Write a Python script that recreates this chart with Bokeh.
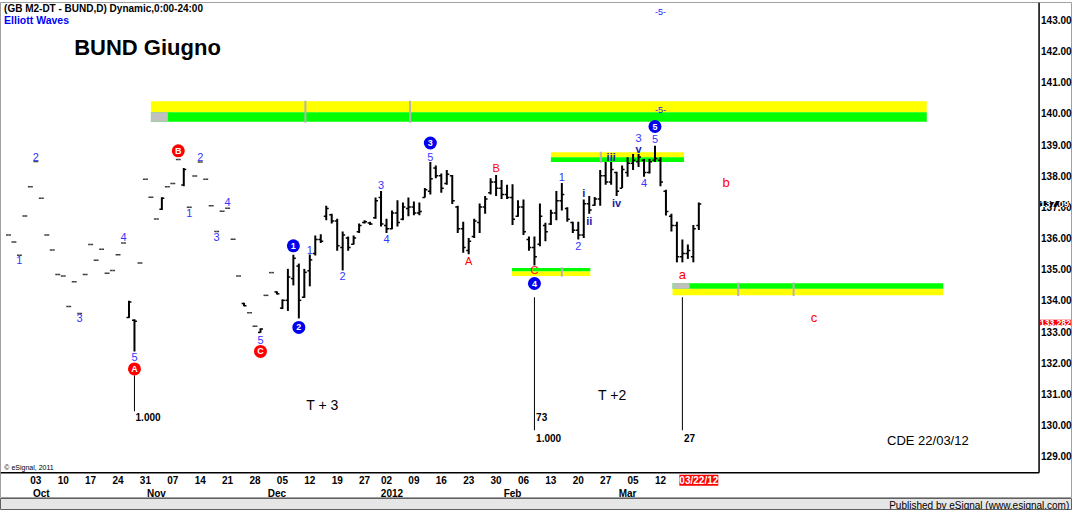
from bokeh.plotting import figure
from bokeh.models import Range1d, LinearAxis, FixedTicker, Label, NumeralTickFormatter, ColumnDataSource
from bokeh.layouts import column
from bokeh.embed import file_html
from bokeh.resources import INLINE
from bokeh.core.properties import value

# ---------------- data (trading-day index, Oct 3 2011 = 0) ----------------
bar_idx = list(range(-5, 122))
highs = [136.10, 135.87, 135.45, 136.71, 137.65, 138.46, 137.28, 136.10, 135.62, 134.83,
         134.78, 133.80, 134.60, 133.58, 134.83, 135.79, 135.29, 135.64, 134.87, 134.96,
         135.46, 135.84, 133.99, 133.39, 135.20, 137.89, 137.31, 136.61, 137.31, 137.65,
         137.75, 138.52, 138.25, 136.99, 137.99, 138.44, 137.89, 137.04, 136.21, 136.86,
         136.96, 135.96, 134.78, 133.92, 133.60, 133.17, 133.10, 134.16, 134.89, 134.29,
         134.03, 135.01, 135.46, 135.18, 135.01, 135.47, 136.08, 136.12, 137.04, 136.78,
         136.62, 136.21, 136.05, 136.08, 136.47, 136.57, 136.52, 137.30, 137.51, 136.62,
         136.88, 137.21, 137.14, 137.30, 137.17, 137.14, 137.61, 138.44, 138.33, 138.07,
         138.18, 138.02, 137.04, 136.52, 136.00, 136.62, 137.11, 137.35, 137.92, 138.02,
         137.86, 137.71, 137.73, 137.21, 137.24, 136.05, 136.05, 137.11, 136.49, 136.91,
         137.51, 137.77, 136.99, 136.52, 136.52, 137.24, 137.35, 137.32, 138.18, 138.44,
         138.44, 138.13, 138.33, 138.59, 138.70, 138.70, 138.54, 138.54, 138.96, 138.59,
         137.55, 136.78, 136.52, 135.95, 135.79, 136.42, 137.14]
lows = [136.10, 135.87, 135.45, 136.71, 137.65, 138.46, 137.28, 136.10, 135.62, 134.83,
        134.78, 133.80, 134.60, 133.58, 134.83, 135.79, 135.29, 135.64, 134.87, 134.96,
        135.46, 135.84, 133.43, 132.36, 135.20, 137.89, 137.31, 136.61, 136.90, 137.65,
        137.75, 138.52, 137.66, 136.99, 137.99, 138.44, 137.89, 137.04, 136.21, 136.86,
        136.96, 135.96, 134.78, 133.81, 133.60, 133.17, 132.96, 134.16, 134.89, 134.19,
        133.72, 133.66, 134.48, 133.42, 134.08, 134.45, 135.44, 135.84, 136.57, 136.47,
        135.59, 134.96, 135.59, 135.79, 136.16, 136.47, 136.42, 136.62, 136.37, 136.16,
        136.28, 136.37, 136.57, 136.70, 136.73, 136.73, 137.30, 137.40, 137.92, 137.45,
        137.71, 137.09, 136.16, 135.53, 135.48, 136.00, 136.16, 136.78, 137.40, 137.35,
        137.25, 137.25, 136.42, 136.68, 136.10, 135.59, 135.12, 135.74, 135.90, 136.42,
        136.57, 136.88, 136.52, 136.16, 135.95, 136.00, 136.78, 137.04, 137.04, 137.71,
        137.71, 137.35, 137.61, 137.97, 138.18, 138.28, 137.97, 138.07, 138.44, 137.66,
        136.72, 136.21, 135.22, 135.22, 135.33, 135.22, 136.26]
opens = [136.10, 135.87, 135.45, 136.71, 137.65, 138.46, 137.28, 136.10, 135.62, 134.83,
         134.78, 133.80, 134.60, 133.58, 134.83, 135.79, 135.29, 135.64, 134.87, 134.96,
         135.46, 135.84, 133.45, 133.36, 135.20, 137.89, 137.31, 136.61, 136.92, 137.65,
         137.75, 138.52, 137.70, 136.99, 137.99, 138.44, 137.89, 137.04, 136.21, 136.86,
         136.96, 135.96, 134.78, 133.90, 133.60, 133.17, 132.97, 134.16, 134.89, 134.27,
         133.75, 134.00, 134.70, 135.10, 134.10, 134.95, 135.50, 135.95, 136.70, 136.75,
         136.55, 135.70, 136.00, 135.80, 136.20, 136.50, 136.48, 136.65, 137.30, 136.40,
         136.30, 136.80, 136.60, 136.95, 137.00, 136.80, 137.30, 137.50, 138.25, 138.00,
         137.75, 138.00, 137.00, 136.30, 135.60, 136.05, 136.50, 137.00, 137.45, 137.80,
         137.60, 137.40, 137.30, 136.70, 137.00, 135.95, 135.70, 135.80, 136.40, 136.45,
         136.80, 137.20, 136.95, 136.50, 136.25, 136.10, 137.10, 137.05, 137.25, 138.00,
         137.80, 138.10, 137.60, 138.10, 138.40, 138.45, 138.50, 138.10, 138.50, 138.50,
         137.50, 136.70, 136.40, 135.40, 135.50, 135.40, 136.40]
closes = [136.10, 135.87, 135.45, 136.71, 137.65, 138.46, 137.28, 136.10, 135.62, 134.83,
          134.78, 133.80, 134.60, 133.58, 134.83, 135.79, 135.29, 135.64, 134.87, 134.96,
          135.46, 135.84, 133.95, 133.33, 135.20, 137.89, 137.31, 136.61, 137.28, 137.65,
          137.75, 138.52, 138.20, 136.99, 137.99, 138.44, 137.89, 137.04, 136.21, 136.86,
          136.96, 135.96, 134.78, 133.83, 133.60, 133.17, 133.08, 134.16, 134.89, 134.21,
          134.00, 134.75, 135.35, 134.00, 134.90, 135.30, 135.95, 135.90, 136.95, 136.55,
          135.75, 136.10, 135.70, 136.00, 136.40, 136.52, 136.45, 137.20, 136.45, 136.30,
          136.80, 136.50, 137.00, 137.00, 136.80, 136.85, 137.55, 137.90, 138.00, 137.60,
          138.05, 137.20, 136.30, 135.70, 135.90, 136.55, 137.00, 137.25, 137.80, 137.60,
          137.40, 137.30, 136.60, 137.00, 136.20, 135.70, 135.40, 136.70, 136.20, 136.80,
          137.20, 137.40, 136.60, 136.25, 136.10, 137.10, 136.90, 137.25, 138.00, 137.80,
          138.20, 137.50, 138.20, 138.40, 138.50, 138.60, 138.10, 138.45, 138.55, 137.80,
          136.85, 136.40, 135.40, 135.50, 135.60, 136.30, 137.09]

last_price = 137.09
flag_price = 133.282
y_ticks = list(range(129, 144))

day_ticks = [0, 5, 10, 15, 20, 25, 30, 35, 40, 45, 50, 55, 60, 64, 69, 74, 79, 84, 89, 94, 99, 104, 109, 114]
day_labels = ["03", "10", "17", "24", "31", "07", "14", "21", "28", "05", "12", "19", "27",
              "02", "09", "16", "23", "30", "06", "13", "20", "27", "05", "12"]
month_ticks = [1, 22, 44, 65, 87, 108]
month_labels = ["Oct", "Nov", "Dec", "2012", "Feb", "Mar"]
current_idx = 121
current_label = "03/22/12"

# chart area limits (index / price)
x_first, x_last = -5.9, 183.1
p_low, p_high = 128.47, 143.56

# Elliott wave labels
circ_text = ["1", "2", "3", "4", "5", "A", "B", "C"]
circ_x = [47, 48, 72, 91, 113, 18, 26, 41]
circ_y = [135.75, 133.13, 139.05, 134.54, 139.58, 131.80, 138.80, 132.36]
circ_color = ["#0000ee"] * 5 + ["#ff0000"] * 3

digit_text = ["2", "1", "3", "4", "5", "1", "2", "3", "4", "5", "1", "2", "3", "4", "5",
              "1", "2", "3", "4", "5"]
digit_x = [0, -3, 8, 16, 18, 28, 30, 33, 35, 41, 50, 56, 63, 64, 72, 96, 99, 110, 111, 113]
digit_y = [138.61, 135.28, 133.42, 136.03, 132.17, 136.81, 138.61, 136.03, 137.15, 132.73,
           135.63, 134.79, 137.71, 135.97, 138.61, 137.96, 135.75, 139.20, 137.77, 139.17]

roman_text = ["i", "ii", "iii", "iv", "v"]
roman_x = [100, 101, 105, 106, 110]
roman_y = [137.46, 136.56, 138.59, 137.12, 138.86]

red_text = ["A", "B", "C", "a", "b", "c"]
red_x = [79, 84, 91, 118, 126, 142]
red_y = [135.26, 138.24, 134.97, 134.82, 137.77, 133.45]
red_size = ["11px", "11px", "11px", "13px", "13px", "13px"]

five_text = ["-5-", "-5-"]
five_x = [114, 114]
five_y = [143.25, 140.10]

# zones (price bands)
zone_left = [21, 94, 86.9, 116.2]
zone_right = [162.6, 118.3, 101.2, 165.6]
yellow_bottom = [140.04, 138.59, 134.78, 134.16]
yellow_top = [140.39, 138.75, 134.93, 134.37]
green_bottom = [139.73, 138.44, 134.93, 134.37]
green_top = [140.04, 138.59, 135.04, 134.55]
gray_left = [21, 116.2]
gray_right = [24.1, 119.3]
gray_bottom = [139.73, 134.37]
gray_top = [140.04, 134.55]
divider_x = [49.2, 68.3, 103.1, 96.0, 128.2, 138.3]
divider_bottom = [139.70, 139.70, 138.42, 134.76, 134.14, 134.14]
divider_top = [140.41, 140.41, 138.77, 135.06, 134.57, 134.57]

# measure lines
mline_x = [18, 91, 118]
mline_top = [131.59, 134.10, 134.10]
mline_bottom = [130.44, 129.83, 129.83]
mtext = ["1.000", "73", "1.000", "27"]
mtext_x = [18.2, 91.3, 91.3, 118.3]
mtext_y = [130.24, 130.24, 129.59, 129.59]

# ---------------- figure ----------------
FONT = "Liberation Sans"

# the frame also covers the label strips, so that the price / date flags are not clipped;
# the axes are pinned (fixed_location) at the edges of the chart area
p = figure(width=1072, height=498, x_range=Range1d(-6.45, 189.2), y_range=Range1d(127.64, p_high),
           output_backend="svg", toolbar_location=None, x_axis_location=None, y_axis_location=None,
           min_border_left=0, min_border_right=0, min_border_top=2, min_border_bottom=0,
           background_fill_color="white", border_fill_color="white",
           outline_line_color="#a0a0a0")
p.xgrid.visible = False
p.ygrid.visible = False

axis_style = dict(major_tick_out=0, major_tick_in=0, minor_tick_out=0, minor_tick_in=0,
                  axis_line_color=None, axis_label_standoff=0, major_label_text_font=FONT,
                  major_label_text_font_size="10px", major_label_text_font_style="bold",
                  major_label_text_color="black", major_label_standoff=2)

# right price axis
yax = LinearAxis(ticker=FixedTicker(ticks=y_ticks), formatter=NumeralTickFormatter(format="0.00"),
                 fixed_location=x_last, **axis_style)
p.add_layout(yax, "right")

# date axis: day numbers on the first row, month names on the second row
all_ticks = day_ticks + month_ticks
overrides = {t: l for t, l in zip(day_ticks, day_labels)}
overrides.update({t: "\n" + l for t, l in zip(month_ticks, month_labels)})
xax = LinearAxis(ticker=FixedTicker(ticks=all_ticks), major_label_overrides=overrides,
                 fixed_location=p_low, **axis_style)
p.add_layout(xax, "below")

# chart-area borders (price axis line and date axis line)
p.segment(x0=[x_last, -6.45], y0=[p_low, p_low], x1=[x_last, x_last], y1=[p_high, p_low],
          line_color="black", line_width=1.5)

# zones
p.quad(left=zone_left, right=zone_right, bottom=yellow_bottom, top=yellow_top,
       fill_color="#ffff00", line_color=None)
p.quad(left=zone_left, right=zone_right, bottom=green_bottom, top=green_top,
       fill_color="#00ff00", line_color=None)
p.quad(left=gray_left, right=gray_right, bottom=gray_bottom, top=gray_top,
       fill_color="#c0c0c0", line_color=None)
p.segment(x0=divider_x, y0=divider_bottom, x1=divider_x, y1=divider_top,
          line_color="#b4b4b4", line_width=2)

# bars
tick = 0.45
bar_color = ["#404040" if h == l else "black" for h, l in zip(highs, lows)]
bars = ColumnDataSource(dict(x=bar_idx, h=highs, l=lows, o=opens, c=closes, col=bar_color,
                             xl=[i - tick for i in bar_idx], xr=[i + tick for i in bar_idx]))
p.segment(x0="x", y0="l", x1="x", y1="h", source=bars, line_color="col", line_width=2)
p.segment(x0="xl", y0="o", x1="x", y1="o", source=bars, line_color="col", line_width=1.5)
p.segment(x0="x", y0="c", x1="xr", y1="c", source=bars, line_color="col", line_width=1.5)

# measure lines
p.segment(x0=mline_x, y0=mline_bottom, x1=mline_x, y1=mline_top, line_color="black", line_width=1)
p.text(x=mtext_x, y=mtext_y, text=mtext, text_font=value(FONT), text_font_size="10px",
       text_font_style="bold", text_color="black", text_align="left", text_baseline="middle")

# wave labels
p.scatter(x=circ_x, y=circ_y, size=13, fill_color=circ_color, line_color=None)
p.text(x=circ_x, y=circ_y, text=circ_text, text_font=value(FONT), text_font_size="9px",
       text_font_style="bold", text_color="white", text_align="center", text_baseline="middle")
p.text(x=digit_x, y=digit_y, text=digit_text, text_font=value(FONT), text_font_size="11px",
       text_color="#3535ff", text_align="center", text_baseline="middle")
p.text(x=roman_x, y=roman_y, text=roman_text, text_font=value(FONT), text_font_size="11px",
       text_font_style="bold", text_color="#2020a8", text_align="center", text_baseline="middle")
p.text(x=red_x, y=red_y, text=red_text, text_font=value(FONT), text_font_size=red_size,
       text_color="#ff0000", text_align="center", text_baseline="middle")
p.text(x=five_x, y=five_y, text=five_text, text_font=value(FONT), text_font_size="9px",
       text_color="#2020ff", text_align="center", text_baseline="middle")

# titles and notes
p.add_layout(Label(x=-5.8, y=143.37, text="(GB M2-DT - BUND,D) Dynamic,0:00-24:00",
                   text_font=FONT, text_font_size="10px", text_font_style="bold",
                   text_color="black", text_baseline="middle"))
p.add_layout(Label(x=-5.8, y=143.0, text="Elliott Waves", text_font=FONT, text_font_size="10.5px",
                   text_font_style="bold", text_color="#0000ff", text_baseline="middle"))
p.add_layout(Label(x=7.0, y=142.10, text="BUND Giugno", text_font=FONT, text_font_size="22px",
                   text_font_style="bold", text_color="black", text_baseline="middle"))
p.add_layout(Label(x=52.3, y=130.65, text="T + 3", text_font=FONT, text_font_size="14px",
                   text_color="black", text_align="center", text_baseline="middle"))
p.add_layout(Label(x=105.2, y=130.96, text="T +2", text_font=FONT, text_font_size="14px",
                   text_color="black", text_align="center", text_baseline="middle"))
p.add_layout(Label(x=162.8, y=129.50, text="CDE 22/03/12", text_font=FONT, text_font_size="13px",
                   text_color="black", text_align="center", text_baseline="middle"))
p.add_layout(Label(x=-5.75, y=128.63, text="\u00a9 eSignal, 2011", text_font=FONT,
                   text_font_size="7px", text_color="black", text_baseline="middle"))

# price flags on the axis and current date flag
p.add_layout(Label(x=x_last, y=last_price, x_offset=1, text="%.2f" % last_price, text_font=FONT,
                   text_font_size="9.5px", text_font_style="bold", text_color="white",
                   background_fill_color="black", text_baseline="middle", text_align="left"))
p.add_layout(Label(x=x_last, y=flag_price, x_offset=1, text="%.3f" % flag_price, text_font=FONT,
                   text_font_size="8.5px", text_font_style="bold", text_color="white",
                   background_fill_color="#ff0000", text_baseline="middle", text_align="left"))
p.add_layout(Label(x=current_idx, y=p_low, y_offset=-2, text=current_label, text_font=FONT,
                   text_font_size="10px", text_font_style="bold", text_color="white",
                   background_fill_color="#ff0000", text_baseline="top", text_align="center"))

# footer strip
foot = figure(width=1072, height=12, x_range=Range1d(0, 1), y_range=Range1d(0, 1),
              output_backend="svg", toolbar_location=None, min_border=0,
              x_axis_location=None, y_axis_location=None,
              background_fill_color="#e6e6e6", border_fill_color="#e6e6e6",
              outline_line_color="#606060")
foot.xgrid.visible = False
foot.ygrid.visible = False
foot.add_layout(Label(x=0.997, y=0.45, text="Published by eSignal (www.esignal.com)",
                      text_font=FONT, text_font_size="10px", text_color="black",
                      text_align="right", text_baseline="middle"))

layout = column(p, foot, spacing=0)
open("out.html", "w").write(file_html(layout, INLINE))
